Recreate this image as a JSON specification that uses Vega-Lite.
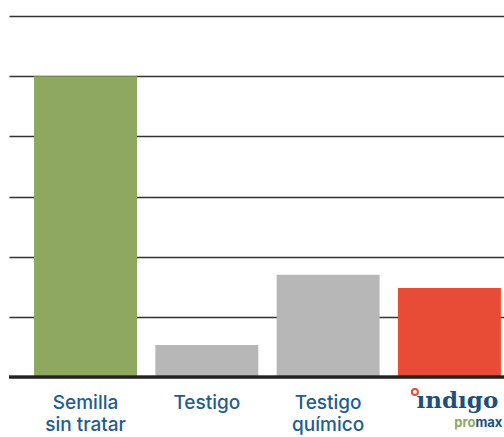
{
  "$schema": "https://vega.github.io/schema/vega-lite/v6.json",
  "width": 495,
  "height": 361,
  "autosize": {"type": "none"},
  "padding": {"left": 9, "top": 16, "right": 0, "bottom": 60},
  "background": "white",
  "config": {"view": {"stroke": null}},
  "data": {"values": [
    {"tratamiento": "Semilla sin tratar", "valor": 5.0, "grupo": "sin"},
    {"tratamiento": "Testigo", "valor": 0.53, "grupo": "testigo"},
    {"tratamiento": "Testigo químico", "valor": 1.7, "grupo": "testigo"},
    {"tratamiento": "Indigo", "valor": 1.48, "grupo": "indigo"}
  ]},
  "encoding": {
    "x": {
      "field": "tratamiento",
      "type": "nominal",
      "sort": null,
      "scale": {"paddingInner": 0.151, "paddingOuter": 0.116, "align": 0.89},
      "axis": {
        "title": null,
        "domain": false,
        "ticks": false,
        "labelAngle": 0,
        "labelFont": "Inter",
        "labelFontSize": 19,
        "labelFontWeight": 500,
        "labelColor": "#1f5d8c",
        "labelLineHeight": 22,
        "labelPadding": 16,
        "labelBaseline": "top",
        "labelExpr": "datum.value == 'Semilla sin tratar' ? ['Semilla','sin tratar'] : datum.value == 'Testigo químico' ? ['Testigo','químico'] : datum.value == 'Indigo' ? '' : datum.value"
      }
    }
  },
  "layer": [
    {
      "mark": {"type": "bar"},
      "encoding": {
        "y": {
          "field": "valor",
          "type": "quantitative",
          "scale": {"domain": [0, 6], "nice": false},
          "axis": {
            "title": null,
            "domain": false,
            "ticks": false,
            "labels": false,
            "values": [0, 1, 2, 3, 4, 5, 6],
            "grid": true,
            "gridColor": "#333333",
            "gridWidth": 1.5
          }
        },
        "color": {
          "field": "grupo",
          "type": "nominal",
          "scale": {"domain": ["sin", "testigo", "indigo"], "range": ["#8fa85f", "#b7b7b7", "#e84c37"]},
          "legend": null
        }
      }
    },
    {
      "mark": {"type": "rule", "color": "#222222", "strokeWidth": 2.5},
      "encoding": {
        "x": {"value": 0},
        "x2": {"value": 495},
        "y": {"datum": 0, "type": "quantitative"}
      }
    },
    {
      "transform": [{"filter": "datum.tratamiento == 'Indigo'"}],
      "mark": {"type": "text", "text": "ındıgo", "font": "DejaVu Serif", "fontWeight": "bold", "fontSize": 23, "color": "#1d4f7a", "baseline": "alphabetic", "align": "center", "dx": 8, "dy": 31},
      "encoding": {"y": {"datum": 0, "type": "quantitative"}}
    },
    {
      "transform": [{"filter": "datum.tratamiento == 'Indigo'"}],
      "mark": {"type": "text", "text": "pro", "font": "Inter", "fontWeight": "bold", "fontSize": 13, "color": "#8fa85f", "baseline": "alphabetic", "align": "right", "dx": 26, "dy": 50},
      "encoding": {"y": {"datum": 0, "type": "quantitative"}}
    },
    {
      "transform": [{"filter": "datum.tratamiento == 'Indigo'"}],
      "mark": {"type": "text", "text": "max", "font": "Inter", "fontWeight": "bold", "fontSize": 13, "color": "#1d4f7a", "baseline": "alphabetic", "align": "left", "dx": 26, "dy": 50},
      "encoding": {"y": {"datum": 0, "type": "quantitative"}}
    },
    {
      "transform": [{"filter": "datum.tratamiento == 'Indigo'"}],
      "mark": {"type": "point", "shape": "circle", "filled": false, "stroke": "#e84c37", "strokeWidth": 2, "size": 36, "opacity": 1, "xOffset": -34.5, "yOffset": 15},
      "encoding": {"y": {"datum": 0, "type": "quantitative"}}
    }
  ]
}
